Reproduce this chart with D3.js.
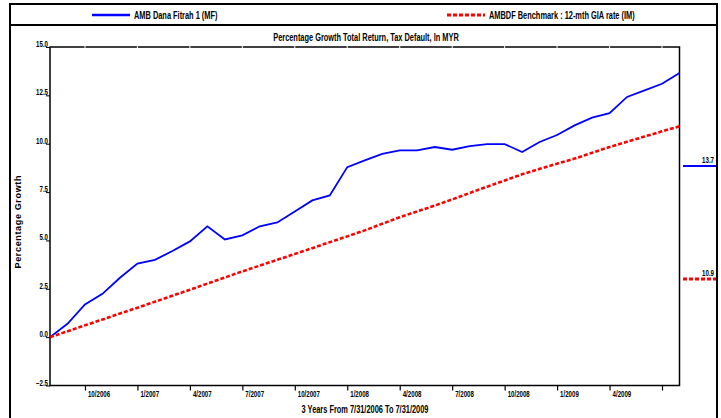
<!DOCTYPE html>
<html><head><meta charset="utf-8">
<script src="https://cdn.jsdelivr.net/npm/d3@7"></script>
<style>
html,body{margin:0;padding:0;background:#fff;}
svg text{font-family:"Liberation Sans",Arial,sans-serif;font-weight:bold;fill:#000;}
</style></head>
<body>
<svg id="chart" width="721" height="418"></svg>
<script>
// ---- data ----
const seriesNames = ["AMB Dana Fitrah 1 (MF)", "AMBDF Benchmark : 12-mth GIA rate (IM)"];
const seriesColors = ["#0000ff", "#ff0000"];
const months = d3.range(0, 37); // months since 7/31/2006
const fundValues = [0, 0.69, 1.69, 2.24, 3.07, 3.80, 4.00, 4.45, 4.95, 5.73, 5.05, 5.26,
  5.73, 5.93, 6.50, 7.07, 7.33, 8.79, 9.14, 9.47, 9.66, 9.66, 9.83, 9.69,
  9.88, 9.98, 9.98, 9.57, 10.09, 10.45, 10.95, 11.35, 11.58, 12.42, 12.76, 13.10, 13.66];
const benchValues = [0, 0.30, 0.61, 0.91, 1.22, 1.52, 1.83, 2.14, 2.45, 2.77, 3.08, 3.40,
  3.70, 4.00, 4.30, 4.60, 4.91, 5.21, 5.52, 5.86, 6.20, 6.50, 6.80, 7.12,
  7.45, 7.78, 8.10, 8.42, 8.70, 8.97, 9.23, 9.53, 9.83, 10.10, 10.37, 10.64, 10.90];
const tickMonths = [2, 5, 8, 11, 14, 17, 20, 23, 26, 29, 32, 35];
const tickLabels = ["10/2006","1/2007","4/2007","7/2007","10/2007","1/2008","4/2008","7/2008","10/2008","1/2009","4/2009",""];
const yTicks = [-2.5, 0, 2.5, 5, 7.5, 10, 12.5, 15];
const endLabels = ["13.7", "10.9"];
const chartTitle = "Percentage Growth Total Return, Tax Default, In MYR";
const xTitle = "3 Years From 7/31/2006 To 7/31/2009";
const yTitle = "Percentage Growth";

// ---- layout ----
const svg = d3.select("#chart");
const L = 50, R = 679.5, T = 47, B = 385.5;
const x = d3.scaleLinear().domain([0, 36]).range([L, R]);
const y = d3.scaleLinear().domain([-2.5, 15]).range([B, T]);
const SQ = 0.74; // condensed look

function condense(sel, f) {
  sel.each(function(){
    const w = this.getComputedTextLength();
    if (w > 0) d3.select(this).attr("textLength", w * (f || SQ)).attr("lengthAdjust","spacingAndGlyphs");
  });
  return sel;
}

// outer frame
svg.append("line").attr("x1",10).attr("x2",10).attr("y1",3).attr("y2",418).attr("stroke","#000").attr("stroke-width",2);
svg.append("line").attr("x1",717).attr("x2",717).attr("y1",3).attr("y2",418).attr("stroke","#000").attr("stroke-width",2);
svg.append("line").attr("x1",9).attr("x2",718).attr("y1",4).attr("y2",4).attr("stroke","#000").attr("stroke-width",2);
svg.append("line").attr("x1",9).attr("x2",718).attr("y1",25).attr("y2",25).attr("stroke","#000").attr("stroke-width",2);

// legend
const legendPos = [{x1:92,x2:130,tx:134},{x1:447,x2:485,tx:489}];
seriesNames.forEach((n,i)=>{
  const p = legendPos[i];
  svg.append("line").attr("x1",p.x1).attr("x2",p.x2).attr("y1",15).attr("y2",15)
    .attr("stroke",seriesColors[i]).attr("stroke-width",i===0?2.5:3)
    .attr("stroke-dasharray",i===0?null:"4,2");
  condense(svg.append("text").attr("x",p.tx).attr("y",18.5).attr("font-size",10).text(n));
});

// title
condense(svg.append("text").attr("x",366).attr("y",41).attr("text-anchor","middle").attr("font-size",10).text(chartTitle));

// plot border
svg.append("rect").attr("x",L).attr("y",T).attr("width",R-L).attr("height",B-T)
  .attr("fill","none").attr("stroke","#000").attr("stroke-width",1.5);
// white notches on top edge
svg.selectAll(".notch").data(tickMonths).join("line").attr("class","notch")
  .attr("x1",d=>x(d)).attr("x2",d=>x(d)).attr("y1",T-1).attr("y2",T+1)
  .attr("stroke","#fff").attr("stroke-width",1);

// x axis ticks + labels
const xAxis = d3.axisBottom(x).tickValues(tickMonths).tickSize(5).tickFormat(()=>"");
const gx = svg.append("g").attr("transform",`translate(0,${B})`).call(xAxis);
gx.select(".domain").remove();
gx.selectAll(".tick line").attr("stroke","#000").attr("stroke-width",1.2);
condense(svg.selectAll(".xl").data(tickMonths).join("text").attr("class","xl")
  .attr("x",d=>x(d)+3).attr("y",396.5).attr("font-size",8.5)
  .text((d,i)=>tickLabels[i]), 0.72);

// y axis labels with short ticks
const yAxis = d3.axisLeft(y).tickValues(yTicks).tickSize(4).tickFormat(d3.format(".1f"));
const gy = svg.append("g").attr("transform",`translate(${L},0)`).call(yAxis);
gy.select(".domain").remove();
gy.selectAll(".tick line").attr("stroke","#000").attr("stroke-width",1);
gy.selectAll(".tick text").attr("x",-2).attr("y",0).attr("dy","-0.5px").attr("font-size",8.5)
  .attr("fill","#000")
  .style("font-family",'"Liberation Sans",Arial,sans-serif').style("font-weight","bold");
condense(gy.selectAll(".tick text"), 0.72);

// axis titles
condense(svg.append("text").attr("x",365).attr("y",413).attr("text-anchor","middle").attr("font-size",10).text(xTitle));
svg.append("text").attr("transform","translate(21,222) rotate(-90)").attr("text-anchor","middle")
  .attr("font-size",9).attr("textLength",93).attr("lengthAdjust","spacing").text(yTitle);

// lines
const line = d3.line().x((d,i)=>x(months[i])).y(d=>y(d));
svg.append("path").datum(fundValues).attr("d",line).attr("fill","none")
  .attr("stroke",seriesColors[0]).attr("stroke-width",1.8);
svg.append("path").datum(benchValues).attr("d",line).attr("fill","none")
  .attr("stroke",seriesColors[1]).attr("stroke-width",2.6).attr("stroke-dasharray","4,2");

// right side end-value markers
const endY = [166, 279];
endLabels.forEach((t,i)=>{
  svg.append("line").attr("x1",683).attr("x2",716).attr("y1",endY[i]).attr("y2",endY[i])
    .attr("stroke",seriesColors[i]).attr("stroke-width",i===0?2.2:3)
    .attr("stroke-dasharray",i===0?null:"4,2");
  condense(svg.append("text").attr("x",714).attr("y",endY[i]-3).attr("text-anchor","end").attr("font-size",8.5).text(t), 0.72);
});
</script>
</body></html>
